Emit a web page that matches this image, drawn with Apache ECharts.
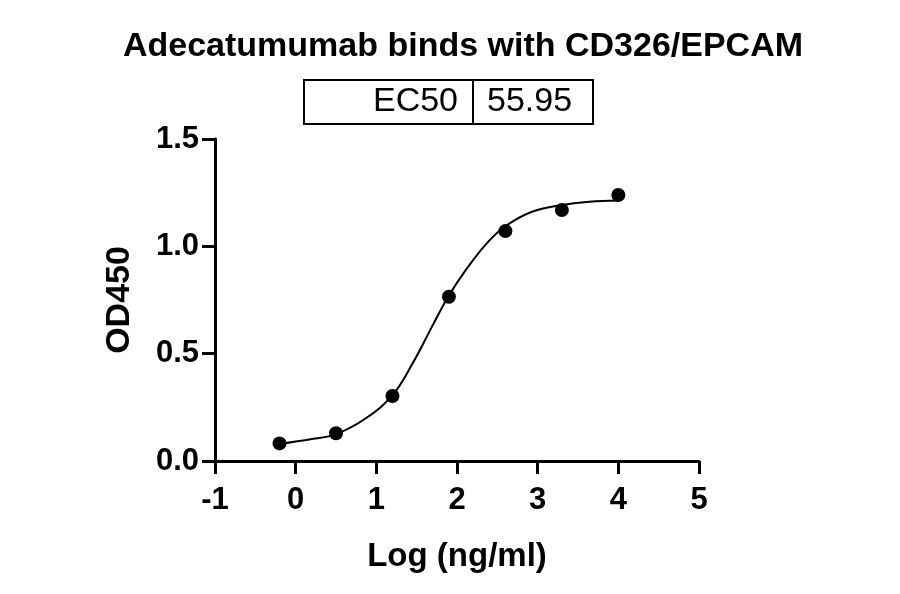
<!DOCTYPE html>
<html>
<head>
<meta charset="utf-8">
<script src="https://cdn.jsdelivr.net/npm/echarts@6/dist/echarts.min.js"></script>
<style>
html,body{margin:0;padding:0;background:#fff;}
#chart{width:900px;height:594px;}
</style>
</head>
<body>
<div id="chart"></div>
<script>
const titleText = 'Adecatumumab binds with CD326/EPCAM';
const ec50Label = 'EC50';
const ec50Value = '55.95';
const xAxisName = 'Log (ng/ml)';
const yAxisName = 'OD450';
const xTicks = [-1, 0, 1, 2, 3, 4, 5];
const yTicks = [0.0, 0.5, 1.0, 1.5];
const pointX = [-0.2, 0.5, 1.2, 1.9, 2.6, 3.3, 4.0];
const pointY = [0.082, 0.129, 0.303, 0.765, 1.071, 1.169, 1.239];
const curveX = [-0.2, 0.2, 0.5, 0.87, 1.2, 1.45, 1.69, 1.89, 2.11, 2.35, 2.59, 2.93, 3.29, 3.64, 4.0];
const curveY = [0.079, 0.102, 0.125, 0.199, 0.307, 0.455, 0.626, 0.765, 0.89, 1.006, 1.091, 1.161, 1.192, 1.208, 1.214];

const FONT = '"Liberation Sans", Arial, sans-serif';
const chart = echarts.init(document.getElementById('chart'), null, {renderer: 'canvas'});
const option = {
  backgroundColor: '#fff',
  animation: false,
  title: {
    text: titleText,
    left: 458, top: 25, textAlign: 'center',
    textStyle: {fontFamily: FONT, fontWeight: 'bold', fontSize: 34, color: '#000'}
  },
  graphic: [
    {type: 'rect', shape: {x: 304, y: 80, width: 289, height: 44},
     style: {fill: 'none', stroke: '#000', lineWidth: 2}},
    {type: 'line', shape: {x1: 473, y1: 80, x2: 473, y2: 124},
     style: {stroke: '#000', lineWidth: 2}},
    {type: 'text', x: 458, y: 102,
     style: {text: ec50Label, fontFamily: FONT, fontSize: 34, fill: '#000', textAlign: 'right', textVerticalAlign: 'middle'}},
    {type: 'text', x: 487, y: 102,
     style: {text: ec50Value, fontFamily: FONT, fontSize: 34, fill: '#000', textAlign: 'left', textVerticalAlign: 'middle'}}
  ],
  grid: {left: 215, right: 201, top: 139, bottom: 133, containLabel: false},
  xAxis: {
    type: 'value', min: xTicks[0], max: xTicks[xTicks.length - 1], interval: 1,
    name: xAxisName, nameLocation: 'middle', nameGap: 79,
    nameTextStyle: {fontFamily: FONT, fontWeight: 'bold', fontSize: 33, color: '#000'},
    axisLine: {onZero: false, lineStyle: {color: '#000', width: 3}},
    axisTick: {length: 13, lineStyle: {color: '#000', width: 3}},
    axisLabel: {fontFamily: FONT, fontWeight: 'bold', fontSize: 31, color: '#000', margin: 24,
      formatter: v => String(v)},
    splitLine: {show: false}
  },
  yAxis: {
    type: 'value', min: yTicks[0], max: yTicks[yTicks.length - 1], interval: 0.5,
    name: yAxisName, nameLocation: 'middle', nameGap: 78, nameRotate: 90,
    nameTextStyle: {fontFamily: FONT, fontWeight: 'bold', fontSize: 34, color: '#000'},
    axisLine: {show: true, onZero: false, lineStyle: {color: '#000', width: 3}},
    axisTick: {show: true, length: 13, lineStyle: {color: '#000', width: 3}},
    axisLabel: {fontFamily: FONT, fontWeight: 'bold', fontSize: 31, color: '#000', margin: 16,
      formatter: v => v.toFixed(1)},
    splitLine: {show: false}
  },
  series: [
    {type: 'line', data: curveX.map((x, i) => [x, curveY[i]]), smooth: 0.4,
     showSymbol: false, lineStyle: {color: '#000', width: 2}, z: 2},
    {type: 'scatter', data: pointX.map((x, i) => [x, pointY[i]]), symbol: 'circle',
     symbolSize: 14, itemStyle: {color: '#000', opacity: 1}, z: 3}
  ]
};
chart.setOption(option);
</script>
</body>
</html>
